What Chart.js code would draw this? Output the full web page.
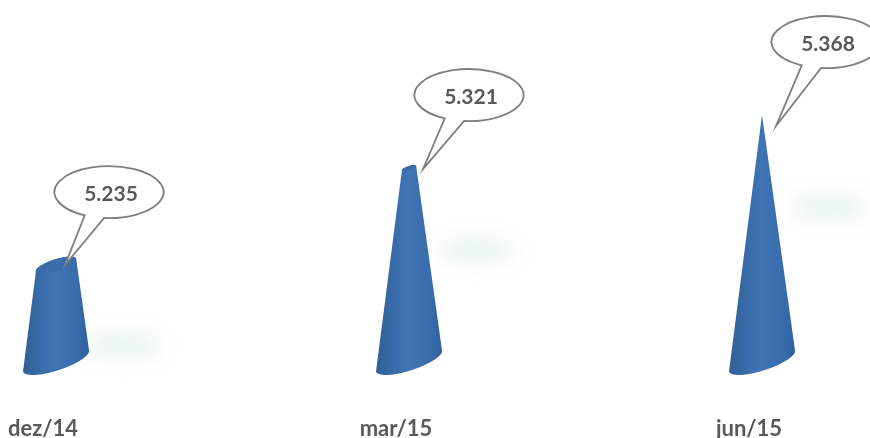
<!DOCTYPE html>
<html>
<head>
<meta charset="utf-8">
<style>html,body{margin:0;padding:0;background:#fff}canvas{display:block}</style>
<script src="https://cdn.jsdelivr.net/npm/chart.js@4/dist/chart.umd.js"></script>
</head>
<body>
<canvas id="c" width="870" height="438"></canvas>
<script>
const categories = ["dez/14", "mar/15", "jun/15"];
const values = [5.235, 5.321, 5.368];
const axisMin = 5.15;
const axisMax = 5.47;

// style offsets of the decorations, relative to the bar tops
const calloutDx = [53, 60, 64];
const tipDx = [9, 14, 14];
const tipDy = [0, 1, 11];
const glowDy = [80, 82, 92];

const TILT = -18 * Math.PI / 180, A = 34.7, B = 9.5;

function drawCone(ctx, x, topY, baseY, apexY) {
  const s = (topY - apexY) / (baseY - apexY);
  const a2 = A * s, b2 = B * s;
  const cos = Math.cos(TILT), sin = Math.sin(TILT);
  const g = ctx.createLinearGradient(x - 33, 0, x + 33, 0);
  g.addColorStop(0, "#2f5f9b");
  g.addColorStop(0.12, "#34659f");
  g.addColorStop(0.5, "#3f74b5");
  g.addColorStop(0.85, "#386bab");
  g.addColorStop(1, "#30609b");
  ctx.beginPath();
  ctx.ellipse(x, baseY, A, B, TILT, 0, Math.PI);
  ctx.lineTo(x - a2 * cos, topY - a2 * sin);
  if (s > 0) ctx.ellipse(x, topY, a2, b2, TILT, Math.PI, 2 * Math.PI);
  else ctx.lineTo(x, topY);
  ctx.closePath();
  ctx.fillStyle = g;
  ctx.fill();
  if (s > 0) {
    ctx.beginPath();
    ctx.ellipse(x, topY, a2, b2, TILT, 0, 2 * Math.PI);
    ctx.fillStyle = "#3a6cab";
    ctx.fill();
  }
}

function drawGlow(ctx, x, y) {
  ctx.save();
  ctx.filter = "blur(11px)";
  ctx.fillStyle = "rgba(214,238,222,0.62)";
  ctx.beginPath();
  ctx.ellipse(x, y, 40, 11, 0, 0, 2 * Math.PI);
  ctx.fill();
  ctx.restore();
}

function drawCallout(ctx, cx, cy, tx, ty, label) {
  const rx = 54.5, ry = 26;
  const a1 = Math.atan2(24 / ry, -25 / rx);
  const a2 = Math.atan2(26.5 / ry, -5 / rx);
  ctx.beginPath();
  ctx.ellipse(cx, cy, rx, ry, 0, a1, a2, false);
  ctx.lineTo(tx, ty);
  ctx.closePath();
  ctx.fillStyle = "#ffffff";
  ctx.fill();
  ctx.lineWidth = 1.8;
  ctx.strokeStyle = "#7f7f7f";
  ctx.lineJoin = "miter";
  ctx.stroke();
  ctx.fillStyle = "#595959";
  ctx.font = "bold 21px Lato, 'Open Sans', sans-serif";
  ctx.textAlign = "center";
  ctx.textBaseline = "middle";
  ctx.fillText(label, cx + 2, cy + 2);
}

const conePlugin = {
  id: "cones",
  beforeDatasetDraw(chart, args) {
    const ctx = chart.ctx;
    const meta = args.meta;
    const apexY = chart.scales.y.getPixelForValue(Math.max(...values));
    ctx.save();
    meta.data.forEach((bar, i) => drawGlow(ctx, bar.x + 67, bar.y + glowDy[i]));
    meta.data.forEach((bar) => drawCone(ctx, bar.x, bar.y, bar.base, apexY));
    ctx.restore();
    return false;
  },
  afterDraw(chart) {
    const ctx = chart.ctx;
    const meta = chart.getDatasetMeta(0);
    ctx.save();
    meta.data.forEach((bar, i) => {
      drawCallout(ctx, bar.x + calloutDx[i], bar.y - 73, bar.x + tipDx[i], bar.y + tipDy[i], values[i].toFixed(3));
    });
    ctx.restore();
  }
};

new Chart(document.getElementById("c"), {
  type: "bar",
  data: {
    datasets: [{
      label: "Valor",
      data: values.map((v, i) => ({ x: i, y: v })),
      backgroundColor: "#3f74b3",
      base: axisMin,
      barThickness: 66
    }]
  },
  options: {
    responsive: false,
    animation: false,
    devicePixelRatio: 1,
    layout: { padding: 0 },
    plugins: { legend: { display: false }, title: { display: false }, tooltip: { enabled: false } },
    scales: {
      x: {
        type: "linear",
        offset: false,
        min: -56 / 353,
        max: 814 / 353,
        afterBuildTicks(scale) { scale.ticks = categories.map((_, i) => ({ value: i })); },
        afterFit(scale) { scale.height = 77; scale.paddingLeft = 0; scale.paddingRight = 0; },
        grid: { display: false },
        border: { display: false },
        ticks: {
          callback: (v) => categories[v],
          autoSkip: false,
          maxRotation: 0,
          padding: 47,
          labelOffset: -13,
          color: "#595959",
          font: { family: "Lato, 'Open Sans', sans-serif", size: 22, weight: "bold" }
        }
      },
      y: { display: false, min: axisMin, max: axisMax }
    }
  },
  plugins: [conePlugin]
});
</script>
</body>
</html>
